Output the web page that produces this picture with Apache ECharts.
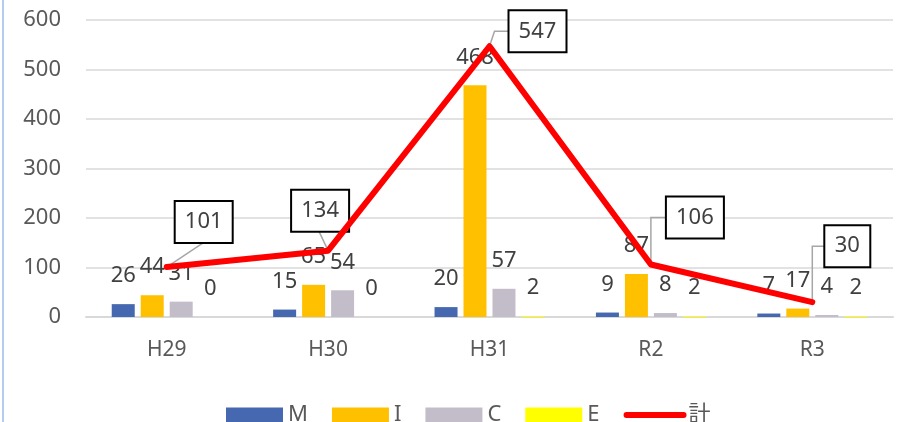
<!DOCTYPE html>
<html>
<head>
<meta charset="utf-8">
<script src="https://cdn.jsdelivr.net/npm/echarts@6/dist/echarts.min.js"></script>
<style>
  html, body { margin: 0; padding: 0; background: #fff; }
  #chart { width: 899px; height: 422px; }
</style>
</head>
<body>
<div id="chart"></div>
<script>
// Fiscal years
const categories = ['H29', 'H30', 'H31', 'R2', 'R3'];

// Counts per type
const seriesM = [26, 15, 20, 9, 7];
const seriesI = [44, 65, 468, 87, 17];
const seriesC = [31, 54, 57, 8, 4];
const seriesE = [0, 0, 2, 2, 2];
const totals = [101, 134, 547, 106, 30];

// Y axis range
const yMin = 0;
const yMax = 600;
const yStep = 100;

// Placement of the boxed total labels relative to each point
const totalLabelLayout = [
  { dx: 37, dy: -45, leader: 'bottom' },
  { dx: -8, dy: -40, leader: 'bottom' },
  { dx: 48, dy: -15, leader: 'left', elbow: 5 },
  { dx: 44, dy: -47, leader: 'left', elbow: 0 },
  { dx: 35, dy: -56, leader: 'left', elbow: 0 }
];

const FONT = '"Noto Sans", "Noto Sans CJK JP", sans-serif';
const chart = echarts.init(document.getElementById('chart'), null, { renderer: 'canvas' });

const barLabel = {
  show: true,
  position: 'top',
  distance: 17,
  fontSize: 22,
  fontFamily: FONT,
  color: '#404040'
};

function makeBar(name, data, color) {
  return {
    name: name,
    type: 'bar',
    data: data,
    barWidth: 23,
    barGap: '26%',
    itemStyle: { color: color },
    label: barLabel,
    z: 2
  };
}

function renderTotalBox(params, api) {
  const idx = params.dataIndex;
  const value = api.value(1);
  const p = api.coord([api.value(0), value]);
  const lay = totalLabelLayout[idx];
  const text = String(value);
  const w = text.length * 12 + 22;
  const h = 42;
  const cx = p[0] + lay.dx;
  const cy = p[1] + lay.dy;
  const left = cx - w / 2;
  const top = cy - h / 2;
  let pts;
  if (lay.leader === 'bottom') {
    pts = [[p[0], p[1]], [cx - 1, top + h]];
  } else {
    pts = [[p[0], p[1]], [p[0] + lay.elbow, cy], [left, cy]];
  }
  return {
    type: 'group',
    children: [
      {
        type: 'polyline',
        shape: { points: pts },
        style: { stroke: '#A6A6A6', lineWidth: 1.5, fill: null }
      },
      {
        type: 'rect',
        shape: { x: left, y: top, width: w, height: h },
        style: { fill: '#FFFFFF', stroke: '#000000', lineWidth: 2 }
      },
      {
        type: 'text',
        x: cx,
        y: cy,
        style: {
          text: text,
          fontSize: 22,
          fontFamily: FONT,
          fill: '#404040',
          align: 'center',
          verticalAlign: 'middle'
        }
      }
    ]
  };
}

const option = {
  animation: false,
  backgroundColor: '#FFFFFF',
  textStyle: { fontFamily: FONT },
  grid: { left: 86, right: 6, top: 20, bottom: 105, containLabel: false },
  legend: {
    left: 221,
    top: 399,
    itemWidth: 57,
    itemHeight: 15,
    itemGap: 24,
    textStyle: { fontSize: 22, color: '#595959', fontFamily: FONT },
    data: [
      { name: 'M', icon: 'rect' },
      { name: 'I', icon: 'rect' },
      { name: 'C', icon: 'rect' },
      { name: 'E', icon: 'rect' },
      {
        name: '計',
        itemStyle: { opacity: 0 },
        lineStyle: { color: '#FF0000', width: 6, cap: 'round' }
      }
    ]
  },
  xAxis: {
    type: 'category',
    data: categories,
    axisTick: { show: false },
    axisLine: { lineStyle: { color: '#D9D9D9', width: 2 } },
    axisLabel: { fontSize: 21, color: '#595959', margin: 23, fontFamily: FONT }
  },
  yAxis: {
    type: 'value',
    min: yMin,
    max: yMax,
    interval: yStep,
    axisLine: { show: false },
    axisTick: { show: false },
    splitLine: { lineStyle: { color: '#D9D9D9', width: 1.5 } },
    axisLabel: { fontSize: 22, color: '#595959', margin: 25, fontFamily: FONT }
  },
  graphic: [
    {
      type: 'rect',
      left: 2,
      top: 0,
      shape: { width: 2, height: 422 },
      style: { fill: '#B4CCF0' },
      silent: true
    }
  ],
  series: [
    makeBar('M', seriesM, '#4668B0'),
    makeBar('I', seriesI, '#FFC000'),
    makeBar('C', seriesC, '#C3BDC9'),
    makeBar('E', seriesE, '#FFFF00'),
    {
      name: '計-labels',
      type: 'custom',
      renderItem: renderTotalBox,
      data: totals.map((v, i) => [i, v]),
      encode: { x: 0, y: 1 },
      z: 3,
      silent: true
    },
    {
      name: '計',
      type: 'line',
      data: totals,
      symbol: 'none',
      lineStyle: { color: '#FF0000', width: 6, cap: 'round', join: 'round' },
      itemStyle: { color: '#FF0000' },
      z: 4
    }
  ]
};

chart.setOption(option);
</script>
</body>
</html>
